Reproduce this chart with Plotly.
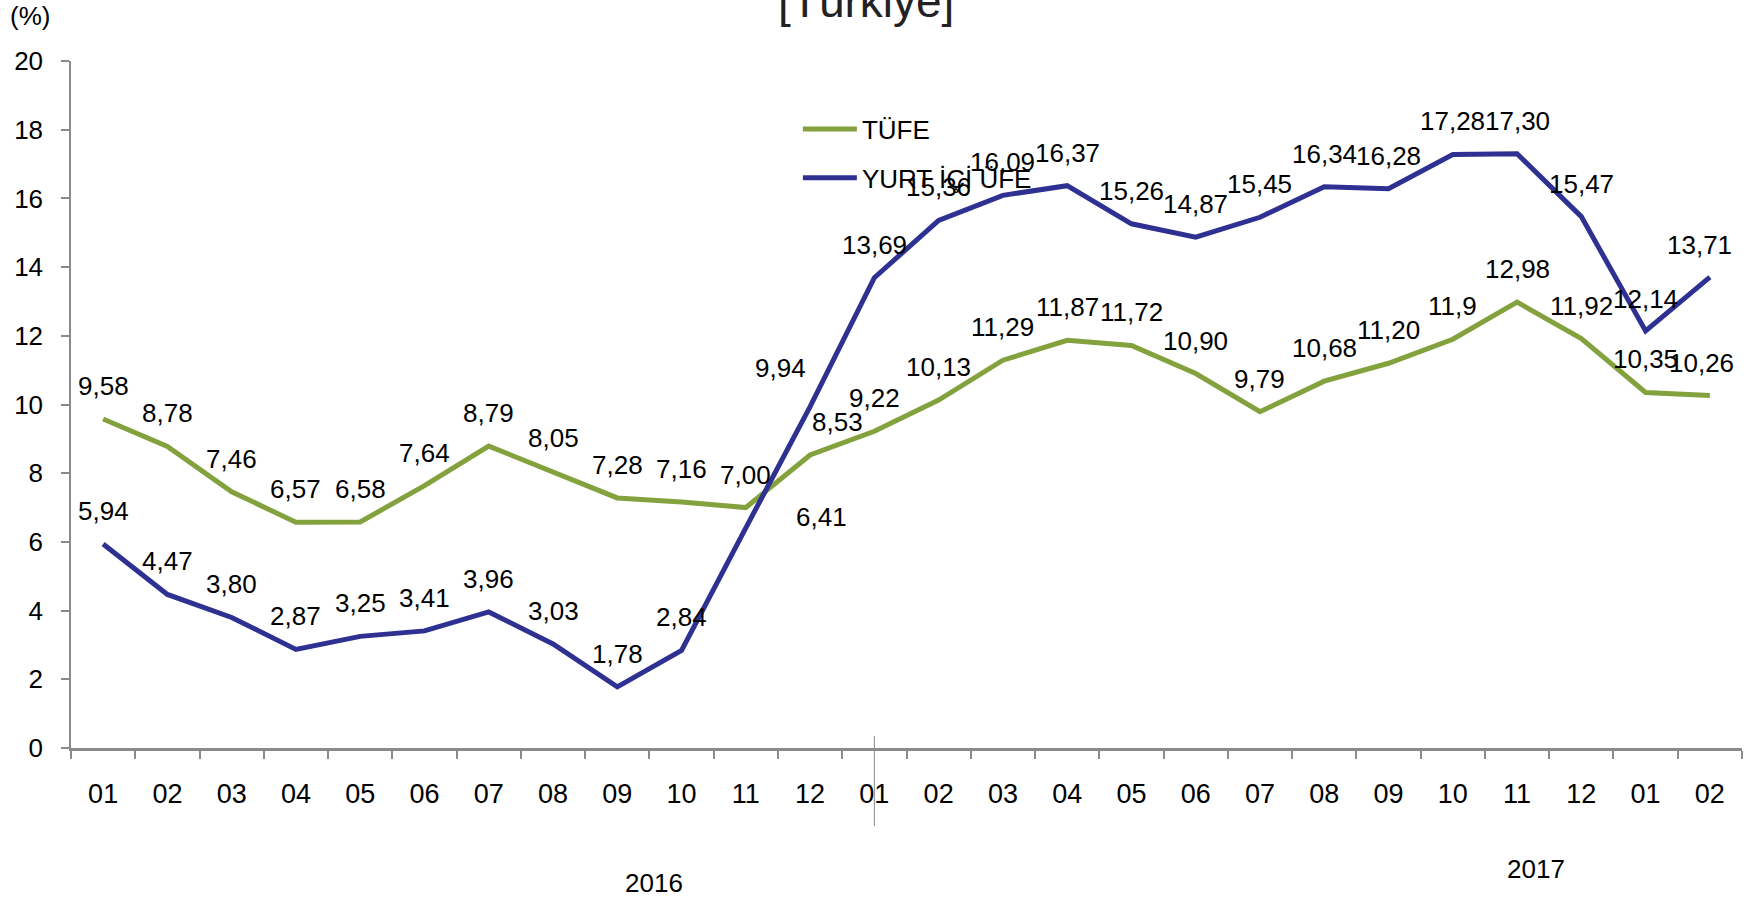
import plotly.graph_objects as go

# ---- data ----
PERIODS = ["2016-01", "2016-02", "2016-03", "2016-04", "2016-05", "2016-06",
           "2016-07", "2016-08", "2016-09", "2016-10", "2016-11", "2016-12",
           "2017-01", "2017-02", "2017-03", "2017-04", "2017-05", "2017-06",
           "2017-07", "2017-08", "2017-09", "2017-10", "2017-11", "2017-12",
           "2018-01", "2018-02"]
MONTH_LABELS = ["01", "02", "03", "04", "05", "06", "07", "08", "09", "10", "11", "12",
                "01", "02", "03", "04", "05", "06", "07", "08", "09", "10", "11", "12",
                "01", "02"]
TUFE = [9.58, 8.78, 7.46, 6.57, 6.58, 7.64, 8.79, 8.05, 7.28, 7.16, 7.00, 8.53,
        9.22, 10.13, 11.29, 11.87, 11.72, 10.90, 9.79, 10.68, 11.20, 11.9, 12.98, 11.92,
        10.35, 10.26]
TUFE_TEXT = ["9,58", "8,78", "7,46", "6,57", "6,58", "7,64", "8,79", "8,05", "7,28", "7,16",
             "7,00", "8,53", "9,22", "10,13", "11,29", "11,87", "11,72", "10,90", "9,79",
             "10,68", "11,20", "11,9", "12,98", "11,92", "10,35", "10,26"]
UFE = [5.94, 4.47, 3.80, 2.87, 3.25, 3.41, 3.96, 3.03, 1.78, 2.84, 6.41, 9.94,
       13.69, 15.36, 16.09, 16.37, 15.26, 14.87, 15.45, 16.34, 16.28, 17.28, 17.30, 15.47,
       12.14, 13.71]
UFE_TEXT = ["5,94", "4,47", "3,80", "2,87", "3,25", "3,41", "3,96", "3,03", "1,78", "2,84",
            "6,41", "9,94", "13,69", "15,36", "16,09", "16,37", "15,26", "14,87", "15,45",
            "16,34", "16,28", "17,28", "17,30", "15,47", "12,14", "13,71"]
YEAR_LABELS = ["2016", "2017"]
SERIES_NAMES = ["TÜFE", "YURT İÇİ ÜFE"]
TITLE = "[Türkiye]"
UNIT = "(%)"

# ---- style ----
FONT = "Arial, Liberation Sans, sans-serif"
GREEN = "#83A23E"
BLUE = "#2E3192"
AXIS = "#8A8A8A"
LBL = 26
XTICK = 27

# label position tweaks (pixels): (xshift, yshift)
TUFE_SHIFT = {11: (27, 33), 25: (-8, 33)}
UFE_SHIFT = {10: (76, 11), 11: (-30, 39), 24: (0, 32), 25: (-10, 32)}

fig = go.Figure()
fig.add_trace(go.Scatter(x=PERIODS, y=TUFE, mode="lines", name=SERIES_NAMES[0],
                         line=dict(color=GREEN, width=5), legendgroup="a",
                         hoverinfo="skip"))
fig.add_trace(go.Scatter(x=PERIODS, y=UFE, mode="lines", name=SERIES_NAMES[1],
                         line=dict(color=BLUE, width=5), legendgroup="b",
                         hoverinfo="skip"))

annotations = []
for i, (v, t) in enumerate(zip(TUFE, TUFE_TEXT)):
    xs, ys = TUFE_SHIFT.get(i, (0, 33))
    annotations.append(dict(x=PERIODS[i], y=v, text=t, showarrow=False, xshift=xs, yshift=ys,
                            font=dict(family=FONT, size=LBL, color="#000")))
for i, (v, t) in enumerate(zip(UFE, UFE_TEXT)):
    xs, ys = UFE_SHIFT.get(i, (0, 33))
    annotations.append(dict(x=PERIODS[i], y=v, text=t, showarrow=False, xshift=xs, yshift=ys,
                            font=dict(family=FONT, size=LBL, color="#000")))

# year labels
annotations.append(dict(x=8.57, y=0, xref="x", yref="y", yshift=-135, text=YEAR_LABELS[0],
                        showarrow=False, font=dict(family=FONT, size=LBL, color="#000")))
annotations.append(dict(x=22.3, y=0, xref="x", yref="y", yshift=-121, text=YEAR_LABELS[1],
                        showarrow=False, font=dict(family=FONT, size=LBL, color="#000")))
# title and unit
annotations.append(dict(x=0.476, y=1.087, xref="paper", yref="paper", text=TITLE,
                        showarrow=False, xanchor="center", yanchor="middle",
                        font=dict(family=FONT, size=46, color="#222")))
annotations.append(dict(x=-0.0245, y=1.0655, xref="paper", yref="paper", text=UNIT,
                        showarrow=False, xanchor="center", yanchor="middle",
                        font=dict(family=FONT, size=LBL, color="#000")))

fig.update_layout(
    width=1756, height=900,
    margin=dict(l=71, r=14, t=61, b=152),
    paper_bgcolor="white", plot_bgcolor="white",
    font=dict(family=FONT, size=LBL, color="#000"),
    showlegend=True,
    legend=dict(x=0.435, y=0.935, xanchor="left", yanchor="top",
                font=dict(family=FONT, size=LBL, color="#000"),
                bgcolor="rgba(0,0,0,0)", tracegroupgap=12, itemwidth=54),
    annotations=annotations,
    shapes=[dict(type="line", xref="x", yref="paper", x0=12, x1=12,
                 y0=0.0175, y1=-0.1135, line=dict(color=AXIS, width=1))],
)
fig.update_xaxes(type="category", range=[-0.5, 25.5], tickmode="array",
                 tickvals=PERIODS, ticktext=MONTH_LABELS, tickson="boundaries",
                 ticks="outside", ticklen=8, tickcolor=AXIS, tickwidth=1.5,
                 showline=True, linecolor=AXIS, linewidth=2.5, showgrid=False,
                 zeroline=False, ticklabelstandoff=20,
                 tickfont=dict(family=FONT, size=XTICK, color="#000"))
fig.update_yaxes(range=[0, 20], dtick=2, tick0=0, ticks="outside", ticklen=8,
                 tickcolor=AXIS, tickwidth=1.5, showline=True, linecolor=AXIS,
                 linewidth=1.5, showgrid=False, zeroline=False, ticklabelstandoff=13,
                 tickfont=dict(family=FONT, size=LBL, color="#000"))

fig.write_html("out.html", config={"displayModeBar": False},
               post_script="document.body.style.margin='0px';")
